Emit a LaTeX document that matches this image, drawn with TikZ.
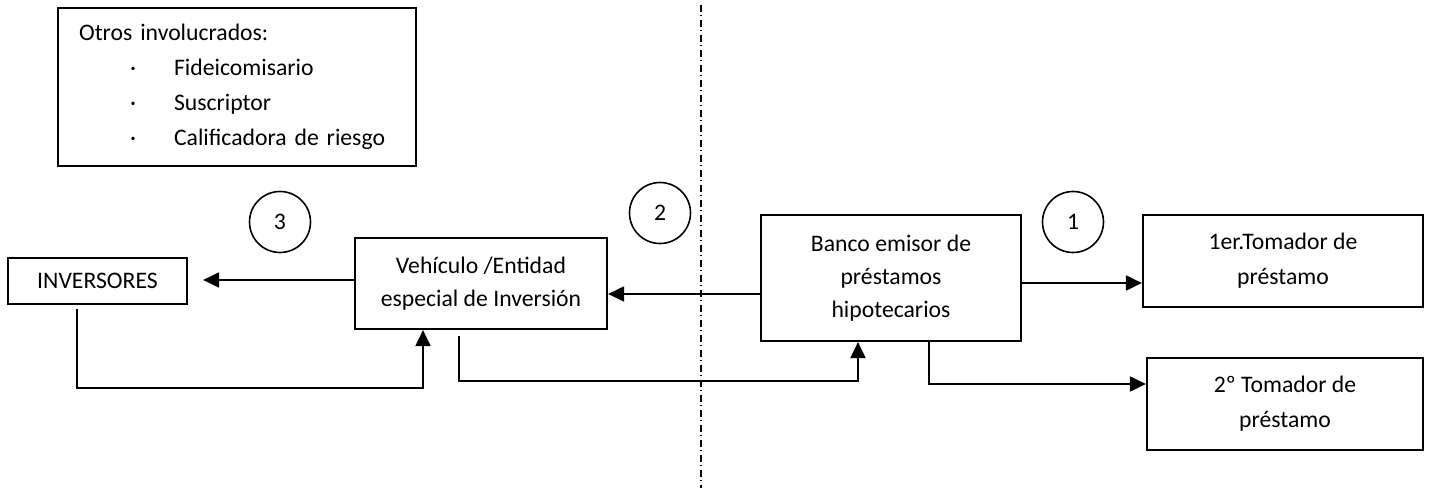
\documentclass[tikz,border=0pt]{standalone}
\usepackage{fontspec}
\setmainfont{Carlito}
\usetikzlibrary{arrows.meta,calc}

\def\punto#1{\makebox[47.5pt][l]{\hspace*{25.5pt}·}#1}

\begin{document}
\begin{tikzpicture}[x=0.5pt,y=-0.5pt,
  font=\fontsize{11.85}{16.5}\selectfont,
  caja/.style={draw, line width=1.1pt, inner sep=0pt, align=center},
  num/.style={draw, circle, line width=0.8pt, minimum size=30.5pt, inner sep=0pt},
  flecha/.style={line width=1pt, -{Triangle[length=8pt,width=7.5pt]}}]

\useasboundingbox (0,0) rectangle (1431,491);

% otros involucrados
\node[draw, line width=1.1pt, anchor=north west, align=left, text width=158pt,
  inner xsep=10.5pt, inner ysep=8pt, font=\fontsize{11.85}{17.5}\selectfont] (otros) at (57,7)
  {Otros involucrados:\\ \punto{Fideicomisario}\\ \punto{Suscriptor}\\ \punto{Calificadora de riesgo}};

% cajas
\node[caja, minimum width=89.5pt, minimum height=23pt] (inv) at (97.5,281) {INVERSORES};
\node[caja, minimum width=126pt, minimum height=45.5pt] (veh) at (481,283.5) {Vehículo /Entidad\\especial de Inversión};
\node[caja, minimum width=130pt, minimum height=63pt] (banco) at (891,278) {Banco emisor de\\préstamos\\hipotecarios};
\node[caja, minimum width=140pt, minimum height=46pt, font=\fontsize{11.85}{17.5}\selectfont] (tom1) at (1283,261) {1er.Tomador de\\préstamo};
\node[caja, minimum width=138pt, minimum height=46pt, font=\fontsize{11.85}{17.5}\selectfont] (tom2) at (1285,404) {2º Tomador de\\préstamo};

% pasos
\foreach \n/\x/\y in {3/280/222, 2/660/213, 1/1073/222}
  \node[num] (c\n) at (\x,\y) {\n};

% linea divisoria
\coordinate (sepA) at (701,5);
\coordinate (sepB) at (701,488);
\draw[line width=0.75pt, dash pattern=on 3.5pt off 1.75pt on 0.5pt off 1.75pt] (sepA) -- (sepB);

% flechas
\coordinate (b1) at ($(banco.east)+(0,5)$);
\coordinate (b2) at ($(banco.west)+(0,16)$);
\coordinate (b3) at ($(banco.south)+(38,0)$);
\coordinate (b4) at ($(banco.south)+(-33,0)$);
\coordinate (v1) at ($(veh.south)+(-22,6)$);
\coordinate (v2) at ($(veh.south)+(-58,0)$);
\coordinate (v3) at ($(veh.west)+(0,-3.5)$);
\coordinate (i1) at ($(inv.south)+(-20.5,4)$);

\draw[flecha] (b1) -- (b1 -| tom1.west);
\draw[flecha] (b3) |- ($(tom2.west)+(0,-20)$);
\draw[flecha] (b2) -- (b2 -| veh.east);
\draw[flecha] (v1) -- ++(0,45) -| (b4);
\draw[flecha] (v3) -- ($(v3 -| inv.east)+(15,0)$);
\draw[flecha] (i1) -- ++(0,79) -| (v2);

\end{tikzpicture}
\end{document}
